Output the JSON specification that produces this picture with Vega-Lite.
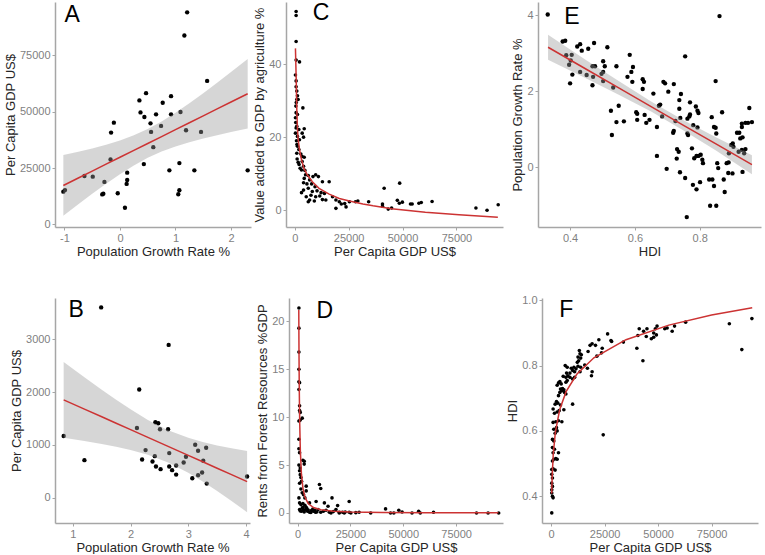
{
"$schema": "https://vega.github.io/schema/vega-lite/v6.json",
"padding": {"left": 4, "top": 2, "right": 2, "bottom": 0},
"spacing": 36,
"config": {
  "view": {"stroke": null},
  "font": "Liberation Sans",
  "axis": {"grid": false, "domainColor": "#a6a6a6", "domainWidth": 1.5, "tickColor": "#a6a6a6", "tickSize": 3, "tickWidth": 1, "labelColor": "#7f7f7f", "labelFont": "Liberation Sans", "labelFontSize": 11, "labelPadding": 2, "labelFlush": false, "labelOverlap": false, "titleFont": "Liberation Sans", "titleFontSize": 13, "titleFontWeight": "normal", "titleColor": "#262626", "titlePadding": 2},
  "text": {"font": "Liberation Sans"}
},
"datasets": {
  "a_pts": [{"x":-1.02,"y":14500},{"x":-0.99,"y":15200},{"x":-0.64,"y":21470},{"x":-0.49,"y":21180},{"x":-0.28,"y":18820},{"x":-0.32,"y":13300},{"x":-0.30,"y":13600},{"x":-0.16,"y":40740},{"x":-0.11,"y":45150},{"x":-0.17,"y":28820},{"x":-0.04,"y":13820},{"x":0.09,"y":7350},{"x":0.13,"y":22940},{"x":0.13,"y":19700},{"x":0.12,"y":17940},{"x":0.35,"y":55000},{"x":0.37,"y":49700},{"x":0.44,"y":47650},{"x":0.47,"y":58240},{"x":0.43,"y":26760},{"x":0.55,"y":44850},{"x":0.56,"y":41030},{"x":0.65,"y":48820},{"x":0.60,"y":34260},{"x":0.74,"y":43680},{"x":0.77,"y":53970},{"x":0.92,"y":56910},{"x":0.92,"y":48820},{"x":0.89,"y":23970},{"x":1.09,"y":49850},{"x":1.07,"y":27200},{"x":1.07,"y":15150},{"x":1.05,"y":13380},{"x":1.19,"y":41760},{"x":1.16,"y":83820},{"x":1.21,"y":94120},{"x":1.34,"y":23970},{"x":1.46,"y":41030},{"x":1.57,"y":63680},{"x":2.30,"y":23970}],
  "a_fit": [{"x":-1.02,"fit":17255,"lo":3770,"hi":30740},{"x":-0.75,"fit":20566,"lo":8896,"hi":32236},{"x":-0.5,"fit":23630,"lo":13540,"hi":33720},{"x":-0.25,"fit":26697,"lo":18033,"hi":35361},{"x":0,"fit":29763,"lo":22280,"hi":37245},{"x":0.25,"fit":32829,"lo":26157,"hi":39501},{"x":0.5,"fit":35895,"lo":29515,"hi":42275},{"x":0.75,"fit":38961,"lo":32289,"hi":45633},{"x":1,"fit":42026,"lo":34544,"hi":49508},{"x":1.25,"fit":45092,"lo":36428,"hi":53756},{"x":1.5,"fit":48158,"lo":38068,"hi":58248},{"x":1.75,"fit":51224,"lo":39554,"hi":62894},{"x":2,"fit":54289,"lo":40940,"hi":67638},{"x":2.3,"fit":57968,"lo":42518,"hi":73418}],
  "b_pts": [{"x":0.84,"y":1167},{"x":1.20,"y":710},{"x":1.49,"y":3602},{"x":2.11,"y":1319},{"x":2.15,"y":2048},{"x":2.20,"y":723},{"x":2.26,"y":900},{"x":2.38,"y":685},{"x":2.42,"y":786},{"x":2.43,"y":1427},{"x":2.44,"y":590},{"x":2.48,"y":1408},{"x":2.51,"y":1294},{"x":2.52,"y":539},{"x":2.65,"y":1294},{"x":2.66,"y":2892},{"x":2.67,"y":843},{"x":2.67,"y":590},{"x":2.72,"y":520},{"x":2.79,"y":609},{"x":2.79,"y":437},{"x":2.92,"y":666},{"x":2.96,"y":774},{"x":3.07,"y":368},{"x":3.12,"y":1002},{"x":3.17,"y":888},{"x":3.17,"y":425},{"x":3.24,"y":476},{"x":3.26,"y":698},{"x":3.31,"y":945},{"x":3.32,"y":266},{"x":4.02,"y":400}],
  "b_fit": [{"x":0.84,"fit":1852,"lo":1134,"hi":2570},{"x":1.2,"fit":1677,"lo":1073,"hi":2281},{"x":1.5,"fit":1531,"lo":1017,"hi":2045},{"x":1.75,"fit":1409,"lo":964,"hi":1854},{"x":2,"fit":1287,"lo":902,"hi":1672},{"x":2.3,"fit":1141,"lo":810,"hi":1472},{"x":2.65,"fit":971,"lo":665,"hi":1277},{"x":3,"fit":801,"lo":470,"hi":1132},{"x":3.25,"fit":679,"lo":305,"hi":1053},{"x":3.5,"fit":557,"lo":125,"hi":989},{"x":3.75,"fit":435,"lo":-65,"hi":935},{"x":4.02,"fit":304,"lo":-275,"hi":883}],
  "c_pts": [{"x":626,"y":54.4},{"x":626,"y":53.3},{"x":626,"y":46.2},{"x":626,"y":41.1},{"x":2191,"y":40.6},{"x":313,"y":37.0},{"x":626,"y":35.4},{"x":626,"y":33.8},{"x":939,"y":32.6},{"x":1252,"y":31.3},{"x":939,"y":30.3},{"x":1565,"y":30.3},{"x":3756,"y":28.0},{"x":626,"y":26.7},{"x":1252,"y":26.2},{"x":313,"y":25.3},{"x":939,"y":23.0},{"x":626,"y":22.5},{"x":1878,"y":22.1},{"x":4382,"y":22.3},{"x":313,"y":21.1},{"x":1252,"y":20.2},{"x":3443,"y":21.1},{"x":4069,"y":20.0},{"x":2191,"y":19.3},{"x":1252,"y":17.5},{"x":1878,"y":16.6},{"x":939,"y":15.6},{"x":2817,"y":15.4},{"x":3443,"y":14.7},{"x":4382,"y":14.5},{"x":1565,"y":13.1},{"x":3443,"y":13.3},{"x":4069,"y":12.0},{"x":3130,"y":11.0},{"x":4695,"y":10.9},{"x":500,"y":28.5},{"x":700,"y":29.5},{"x":450,"y":24.0},{"x":800,"y":19.0},{"x":1000,"y":18.0},{"x":1100,"y":14.0},{"x":2000,"y":12.5},{"x":2500,"y":11.5},{"x":5008,"y":9.7},{"x":6260,"y":9.5},{"x":4382,"y":8.7},{"x":6886,"y":8.3},{"x":8451,"y":9.2},{"x":9703,"y":9.7},{"x":10955,"y":9.2},{"x":4069,"y":7.5},{"x":5634,"y":7.2},{"x":7825,"y":7.2},{"x":9390,"y":6.4},{"x":12833,"y":7.8},{"x":15963,"y":7.8},{"x":4069,"y":5.5},{"x":6260,"y":6.0},{"x":8138,"y":5.1},{"x":10329,"y":5.3},{"x":12207,"y":4.8},{"x":13772,"y":4.6},{"x":3130,"y":4.8},{"x":7512,"y":4.1},{"x":9703,"y":3.7},{"x":11581,"y":3.9},{"x":12833,"y":2.9},{"x":14398,"y":2.8},{"x":5321,"y":3.7},{"x":6886,"y":2.8},{"x":6260,"y":2.3},{"x":9077,"y":2.5},{"x":17528,"y":3.7},{"x":19093,"y":2.8},{"x":20658,"y":2.3},{"x":19093,"y":0.5},{"x":21597,"y":1.7},{"x":23162,"y":1.8},{"x":23788,"y":0.9},{"x":25353,"y":2.3},{"x":28170,"y":2.3},{"x":29270,"y":2.5},{"x":34270,"y":2.3},{"x":41470,"y":6.0},{"x":40690,"y":1.7},{"x":40690,"y":1.1},{"x":43350,"y":0.3},{"x":44920,"y":0.6},{"x":47580,"y":2.7},{"x":48670,"y":7.4},{"x":48510,"y":1.9},{"x":49920,"y":2.2},{"x":53680,"y":1.7},{"x":54460,"y":1.7},{"x":57590,"y":1.9},{"x":58690,"y":2.1},{"x":63700,"y":2.4},{"x":84040,"y":0.6},{"x":89200,"y":0},{"x":94370,"y":1.5}],
  "c_fit": [{"x":313,"fit":44.3},{"x":626,"fit":36.8},{"x":939,"fit":27.6},{"x":1252,"fit":22.1},{"x":1565,"fit":19.3},{"x":2191,"fit":16.6},{"x":3130,"fit":13.8},{"x":4226,"fit":11.5},{"x":5790,"fit":9.7},{"x":8138,"fit":7.8},{"x":11268,"fit":6.0},{"x":15963,"fit":4.4},{"x":20658,"fit":3.2},{"x":25353,"fit":2.5},{"x":31613,"fit":1.7},{"x":36308,"fit":1.2},{"x":44920,"fit":0.4},{"x":60570,"fit":-0.55},{"x":76220,"fit":-1.25},{"x":94210,"fit":-1.9}],
  "d_pts": [{"x":626,"y":21.4},{"x":626,"y":19.3},{"x":626,"y":16.8},{"x":626,"y":15.0},{"x":626,"y":13.7},{"x":939,"y":13.6},{"x":626,"y":12.9},{"x":939,"y":11.2},{"x":939,"y":10.7},{"x":1252,"y":10.5},{"x":626,"y":9.6},{"x":1252,"y":9.7},{"x":2191,"y":9.9},{"x":626,"y":7.7},{"x":626,"y":6.7},{"x":939,"y":6.3},{"x":626,"y":5.0},{"x":1252,"y":4.7},{"x":939,"y":4.4},{"x":1252,"y":4.0},{"x":1565,"y":3.7},{"x":1878,"y":3.3},{"x":939,"y":3.1},{"x":2504,"y":5.5},{"x":3130,"y":5.4},{"x":3130,"y":5.1},{"x":1565,"y":2.5},{"x":4069,"y":2.8},{"x":4069,"y":2.3},{"x":10330,"y":2.97},{"x":10950,"y":2.55},{"x":2191,"y":2.1},{"x":2817,"y":1.9},{"x":626,"y":1.57},{"x":3443,"y":1.57},{"x":939,"y":1.05},{"x":1565,"y":0.87},{"x":2504,"y":0.98},{"x":16280,"y":1.57},{"x":5630,"y":1.05},{"x":8760,"y":1.2},{"x":12680,"y":1.05},{"x":14400,"y":0.7},{"x":18940,"y":0.77},{"x":24410,"y":1.19},{"x":939,"y":0.35},{"x":1878,"y":0.17},{"x":2817,"y":0.28},{"x":3756,"y":0.35},{"x":4695,"y":0.17},{"x":5634,"y":0.07},{"x":6573,"y":0.24},{"x":7512,"y":0.17},{"x":8451,"y":0.07},{"x":9703,"y":0.35},{"x":10955,"y":0.07},{"x":12207,"y":0.17},{"x":13459,"y":0.28},{"x":15024,"y":0.07},{"x":16902,"y":0.14},{"x":18154,"y":0.35},{"x":19719,"y":0.07},{"x":21284,"y":0.07},{"x":22536,"y":0.1},{"x":24414,"y":0.07},{"x":27544,"y":0.03},{"x":29109,"y":0.07},{"x":34587,"y":0},{"x":1252,"y":0.2},{"x":2191,"y":0.5},{"x":3130,"y":0.1},{"x":4382,"y":0.45},{"x":5008,"y":0.3},{"x":6260,"y":0.05},{"x":7200,"y":0.4},{"x":8138,"y":0.25},{"x":9077,"y":0.1},{"x":2500,"y":0.6},{"x":3443,"y":0.8},{"x":4069,"y":0.6},{"x":41630,"y":0.42},{"x":43980,"y":0},{"x":45540,"y":0},{"x":47890,"y":0.28},{"x":49450,"y":0.1},{"x":54150,"y":0},{"x":57280,"y":0.17},{"x":58060,"y":0},{"x":64320,"y":0.07},{"x":84670,"y":0},{"x":90140,"y":0},{"x":95150,"y":0},{"x":15800,"y":0},{"x":19720,"y":0},{"x":22070,"y":0},{"x":25200,"y":0}],
  "d_fit": [{"x":560,"fit":21.2},{"x":626,"fit":18.1},{"x":700,"fit":15.5},{"x":800,"fit":12.8},{"x":1000,"fit":9.4},{"x":1300,"fit":6.5},{"x":1800,"fit":4.13},{"x":2504,"fit":2.6},{"x":3500,"fit":1.63},{"x":5000,"fit":0.99},{"x":7500,"fit":0.56},{"x":11000,"fit":0.33},{"x":17000,"fit":0.18},{"x":25000,"fit":0.10},{"x":40000,"fit":0.054},{"x":60000,"fit":0.03},{"x":95000,"fit":0.016}],
  "e_pts": [{"x":0.331,"y":4.02},{"x":0.377,"y":3.31},{"x":0.385,"y":3.33},{"x":0.422,"y":3.18},{"x":0.431,"y":3.24},{"x":0.436,"y":3.07},{"x":0.456,"y":3.12},{"x":0.474,"y":3.27},{"x":0.515,"y":3.16},{"x":0.388,"y":2.95},{"x":0.405,"y":2.96},{"x":0.402,"y":2.81},{"x":0.397,"y":2.70},{"x":0.407,"y":2.44},{"x":0.400,"y":2.21},{"x":0.431,"y":2.51},{"x":0.451,"y":2.43},{"x":0.469,"y":2.66},{"x":0.477,"y":2.66},{"x":0.471,"y":2.38},{"x":0.469,"y":2.16},{"x":0.497,"y":2.46},{"x":0.502,"y":2.51},{"x":0.502,"y":2.79},{"x":0.507,"y":2.66},{"x":0.502,"y":2.27},{"x":0.543,"y":2.66},{"x":0.533,"y":2.10},{"x":0.526,"y":1.49},{"x":0.55,"y":1.62},{"x":0.543,"y":1.19},{"x":0.566,"y":1.21},{"x":0.529,"y":0.85},{"x":0.584,"y":2.96},{"x":0.594,"y":2.64},{"x":0.589,"y":2.51},{"x":0.577,"y":2.38},{"x":0.592,"y":2.25},{"x":0.624,"y":2.32},{"x":0.628,"y":2.25},{"x":0.624,"y":2.06},{"x":0.604,"y":1.45},{"x":0.607,"y":1.41},{"x":0.607,"y":1.25},{"x":0.635,"y":1.17},{"x":0.63,"y":1.38},{"x":0.645,"y":1.25},{"x":0.657,"y":1.94},{"x":0.668,"y":1.06},{"x":0.668,"y":0.30},{"x":0.674,"y":1.62},{"x":0.678,"y":1.65},{"x":0.684,"y":1.34},{"x":0.688,"y":2.25},{"x":0.693,"y":2.21},{"x":0.698,"y":-0.04},{"x":0.703,"y":1.99},{"x":0.72,"y":2.19},{"x":0.725,"y":1.22},{"x":0.718,"y":0.91},{"x":0.72,"y":0.96},{"x":0.73,"y":0.48},{"x":0.735,"y":0.41},{"x":0.729,"y":0.23},{"x":0.737,"y":1.77},{"x":0.737,"y":1.54},{"x":0.742,"y":1.93},{"x":0.74,"y":1.30},{"x":0.739,"y":-0.13},{"x":0.755,"y":-0.28},{"x":0.755,"y":2.92},{"x":0.762,"y":1.28},{"x":0.768,"y":1.34},{"x":0.77,"y":1.39},{"x":0.762,"y":0.89},{"x":0.764,"y":0.85},{"x":0.77,"y":1.71},{"x":0.78,"y":1.11},{"x":0.776,"y":0.50},{"x":0.779,"y":-0.46},{"x":0.79,"y":-0.58},{"x":0.788,"y":1.60},{"x":0.793,"y":1.49},{"x":0.796,"y":1.43},{"x":0.793,"y":1.05},{"x":0.783,"y":0.24},{"x":0.79,"y":0.30},{"x":0.801,"y":-0.39},{"x":0.796,"y":0.30},{"x":0.803,"y":0.33},{"x":0.808,"y":0.20},{"x":0.81,"y":0.11},{"x":0.829,"y":-0.32},{"x":0.839,"y":-0.32},{"x":0.844,"y":-0.49},{"x":0.832,"y":-1.01},{"x":0.851,"y":-1.01},{"x":0.76,"y":-1.31},{"x":0.837,"y":1.32},{"x":0.844,"y":1.06},{"x":0.849,"y":1.04},{"x":0.849,"y":2.27},{"x":0.851,"y":0.89},{"x":0.854,"y":0.11},{"x":0.857,"y":-0.02},{"x":0.861,"y":3.98},{"x":0.869,"y":1.45},{"x":0.874,"y":-0.32},{"x":0.877,"y":-0.65},{"x":0.883,"y":0.11},{"x":0.889,"y":0.13},{"x":0.89,"y":0.37},{"x":0.897,"y":0.59},{"x":0.902,"y":0.63},{"x":0.904,"y":0.54},{"x":0.888,"y":-0.15},{"x":0.901,"y":-0.16},{"x":0.915,"y":0.91},{"x":0.922,"y":0.91},{"x":0.92,"y":0.41},{"x":0.93,"y":0.46},{"x":0.925,"y":0.76},{"x":0.932,"y":0.79},{"x":0.93,"y":1.15},{"x":0.93,"y":1.06},{"x":0.941,"y":1.17},{"x":0.932,"y":-0.12},{"x":0.941,"y":0.48},{"x":0.937,"y":0.37},{"x":0.953,"y":1.56},{"x":0.949,"y":1.17},{"x":0.961,"y":1.19}],
  "e_fit": [{"x":0.332,"fit":3.16,"lo":2.83,"hi":3.49},{"x":0.45,"fit":2.58,"lo":2.34,"hi":2.82},{"x":0.55,"fit":2.089,"lo":1.91,"hi":2.27},{"x":0.65,"fit":1.598,"lo":1.47,"hi":1.73},{"x":0.75,"fit":1.106,"lo":0.97,"hi":1.24},{"x":0.85,"fit":0.615,"lo":0.44,"hi":0.79},{"x":0.961,"fit":0.07,"lo":-0.18,"hi":0.32}],
  "f_pts": [{"x":314,"y":0.349},{"x":314,"y":0.41},{"x":629,"y":0.40},{"x":943,"y":0.395},{"x":314,"y":0.42},{"x":629,"y":0.43},{"x":314,"y":0.44},{"x":629,"y":0.456},{"x":314,"y":0.467},{"x":314,"y":0.482},{"x":943,"y":0.484},{"x":1886,"y":0.48},{"x":629,"y":0.508},{"x":1258,"y":0.513},{"x":2201,"y":0.515},{"x":2830,"y":0.513},{"x":3458,"y":0.533},{"x":943,"y":0.533},{"x":1572,"y":0.544},{"x":629,"y":0.549},{"x":1258,"y":0.569},{"x":629,"y":0.574},{"x":1886,"y":0.593},{"x":2830,"y":0.60},{"x":1258,"y":0.605},{"x":2515,"y":0.61},{"x":943,"y":0.626},{"x":2201,"y":0.628},{"x":3458,"y":0.631},{"x":5030,"y":0.628},{"x":1572,"y":0.654},{"x":2830,"y":0.658},{"x":3773,"y":0.662},{"x":1886,"y":0.682},{"x":3144,"y":0.685},{"x":4402,"y":0.679},{"x":943,"y":0.667},{"x":2515,"y":0.69},{"x":5974,"y":0.665},{"x":10061,"y":0.682},{"x":3458,"y":0.708},{"x":4087,"y":0.718},{"x":5030,"y":0.723},{"x":6288,"y":0.718},{"x":6917,"y":0.713},{"x":2830,"y":0.74},{"x":3458,"y":0.747},{"x":4087,"y":0.751},{"x":4716,"y":0.744},{"x":4402,"y":0.728},{"x":5345,"y":0.73},{"x":5974,"y":0.726},{"x":6917,"y":0.749},{"x":7546,"y":0.754},{"x":5659,"y":0.767},{"x":6917,"y":0.764},{"x":7860,"y":0.769},{"x":8803,"y":0.764},{"x":7231,"y":0.777},{"x":8803,"y":0.777},{"x":10061,"y":0.785},{"x":11004,"y":0.781},{"x":6602,"y":0.80},{"x":7546,"y":0.795},{"x":9432,"y":0.792},{"x":10690,"y":0.795},{"x":11633,"y":0.79},{"x":12576,"y":0.798},{"x":10061,"y":0.759},{"x":11004,"y":0.764},{"x":13519,"y":0.781},{"x":13834,"y":0.795},{"x":12576,"y":0.826},{"x":13519,"y":0.836},{"x":13205,"y":0.846},{"x":12890,"y":0.815},{"x":14148,"y":0.833},{"x":13834,"y":0.823},{"x":12262,"y":0.81},{"x":15720,"y":0.802},{"x":16978,"y":0.792},{"x":17292,"y":0.843},{"x":18864,"y":0.769},{"x":19178,"y":0.781},{"x":18235,"y":0.862},{"x":19178,"y":0.867},{"x":20750,"y":0.862},{"x":21379,"y":0.829},{"x":23580,"y":0.839},{"x":22322,"y":0.879},{"x":23894,"y":0.853},{"x":24366,"y":0.588},{"x":26410,"y":0.897},{"x":27982,"y":0.877},{"x":28296,"y":0.874},{"x":33798,"y":0.872},{"x":40086,"y":0.853},{"x":40558,"y":0.892},{"x":41187,"y":0.913},{"x":42916,"y":0.815},{"x":43230,"y":0.905},{"x":44488,"y":0.889},{"x":44802,"y":0.913},{"x":46845,"y":0.882},{"x":47946,"y":0.887},{"x":47946,"y":0.9},{"x":48732,"y":0.913},{"x":49518,"y":0.921},{"x":49203,"y":0.894},{"x":53133,"y":0.913},{"x":54234,"y":0.915},{"x":56592,"y":0.905},{"x":57693,"y":0.921},{"x":62880,"y":0.933},{"x":83316,"y":0.928},{"x":89132,"y":0.849},{"x":93848,"y":0.944}],
  "f_fit": [{"x":300,"fit":0.4086},{"x":500,"fit":0.459},{"x":1000,"fit":0.5277},{"x":2000,"fit":0.5962},{"x":4000,"fit":0.6648},{"x":7000,"fit":0.7201},{"x":12000,"fit":0.7734},{"x":20000,"fit":0.824},{"x":35000,"fit":0.8793},{"x":55000,"fit":0.924},{"x":75000,"fit":0.9547},{"x":94000,"fit":0.977}]
},
"vconcat": [
 {"spacing": 35, "bounds": "flush", "hconcat": [
  {"width": 196, "height": 225, "layer": [
    {"data": {"name": "a_pts"}, "mark": {"type": "circle", "size": 19, "color": "#000000", "opacity": 1},
     "encoding": {"x": {"field": "x", "type": "quantitative", "title": "Population Growth Rate %", "scale": {"domain": [-1.17, 2.36], "nice": false, "zero": false}, "axis": {"values": [-1, 0, 1, 2], "format": "d", "labelExpr": "datum.value < 0 ? '-' + abs(datum.value) : datum.label"}},
                  "y": {"field": "y", "type": "quantitative", "title": "Per Capita GDP US$", "scale": {"domain": [-1180, 98700], "nice": false, "zero": false}, "axis": {"values": [0, 25000, 50000, 75000], "format": "d"}}}},
    {"data": {"name": "a_fit"}, "mark": {"type": "area", "color": "#999999", "opacity": 0.4},
     "encoding": {"x": {"field": "x", "type": "quantitative", "title": "Population Growth Rate %"}, "y": {"field": "lo", "type": "quantitative", "title": "Per Capita GDP US$"}, "y2": {"field": "hi"}}},
    {"data": {"name": "a_fit"}, "mark": {"type": "line", "color": "#cc3333", "strokeWidth": 1.5},
     "encoding": {"x": {"field": "x", "type": "quantitative", "title": "Population Growth Rate %"}, "y": {"field": "fit", "type": "quantitative", "title": "Per Capita GDP US$"}}},
    {"data": {"values": [{"label": "A"}]}, "mark": {"type": "text", "fontSize": 23, "align": "left", "baseline": "alphabetic", "color": "#000000"},
     "encoding": {"x": {"datum": -1.0, "type": "quantitative"}, "y": {"datum": 90000, "type": "quantitative"}, "text": {"field": "label"}}}
  ]},
  {"width": 217, "height": 225, "layer": [
    {"data": {"name": "c_pts"}, "mark": {"type": "circle", "size": 13, "color": "#000000", "opacity": 1},
     "encoding": {"x": {"field": "x", "type": "quantitative", "title": "Per Capita GDP US$", "scale": {"domain": [-4070, 96600], "nice": false, "zero": false}, "axis": {"values": [0, 25000, 50000, 75000], "format": "d"}},
                  "y": {"field": "y", "type": "quantitative", "title": "Value added to GDP by agriculture %", "scale": {"domain": [-4.6, 57], "nice": false, "zero": false}, "axis": {"values": [0, 20, 40]}}}},
    {"data": {"name": "c_fit"}, "mark": {"type": "line", "color": "#cc3333", "strokeWidth": 1.5},
     "encoding": {"x": {"field": "x", "type": "quantitative", "title": "Per Capita GDP US$"}, "y": {"field": "fit", "type": "quantitative", "title": "Value added to GDP by agriculture %"}}},
    {"data": {"values": [{"label": "C"}]}, "mark": {"type": "text", "fontSize": 23, "align": "left", "baseline": "alphabetic", "color": "#000000"},
     "encoding": {"x": {"datum": 8360, "type": "quantitative"}, "y": {"datum": 52, "type": "quantitative"}, "text": {"field": "label"}}}
  ]},
  {"width": 223, "height": 225, "layer": [
    {"data": {"name": "e_pts"}, "mark": {"type": "circle", "size": 19, "color": "#000000", "opacity": 1},
     "encoding": {"x": {"field": "x", "type": "quantitative", "title": "HDI", "scale": {"domain": [0.301, 0.989], "nice": false, "zero": false}, "axis": {"values": [0.4, 0.6, 0.8], "format": ".1f"}},
                  "y": {"field": "y", "type": "quantitative", "title": "Population Growth Rate %", "scale": {"domain": [-1.57, 4.35], "nice": false, "zero": false}, "axis": {"values": [0, 2, 4]}}}},
    {"data": {"name": "e_fit"}, "mark": {"type": "area", "color": "#999999", "opacity": 0.4},
     "encoding": {"x": {"field": "x", "type": "quantitative", "title": "HDI"}, "y": {"field": "lo", "type": "quantitative", "title": "Population Growth Rate %"}, "y2": {"field": "hi"}}},
    {"data": {"name": "e_fit"}, "mark": {"type": "line", "color": "#cc3333", "strokeWidth": 1.5},
     "encoding": {"x": {"field": "x", "type": "quantitative", "title": "HDI"}, "y": {"field": "fit", "type": "quantitative", "title": "Population Growth Rate %"}}},
    {"data": {"values": [{"label": "E"}]}, "mark": {"type": "text", "fontSize": 23, "align": "left", "baseline": "alphabetic", "color": "#000000"},
     "encoding": {"x": {"datum": 0.382, "type": "quantitative"}, "y": {"datum": 3.76, "type": "quantitative"}, "text": {"field": "label"}}}
  ]}
 ]},
 {"spacing": 39, "bounds": "flush", "hconcat": [
  {"width": 195, "height": 225, "layer": [
    {"data": {"name": "b_pts"}, "mark": {"type": "circle", "size": 19, "color": "#000000", "opacity": 1},
     "encoding": {"x": {"field": "x", "type": "quantitative", "title": "Population Growth Rate %", "scale": {"domain": [0.69, 4.07], "nice": false, "zero": false}, "axis": {"values": [1, 2, 3, 4], "format": "d"}},
                  "y": {"field": "y", "type": "quantitative", "title": "Per Capita GDP US$", "scale": {"domain": [-480, 3780], "nice": false, "zero": false}, "axis": {"values": [0, 1000, 2000, 3000], "format": "d"}}}},
    {"data": {"name": "b_fit"}, "mark": {"type": "area", "color": "#999999", "opacity": 0.4},
     "encoding": {"x": {"field": "x", "type": "quantitative", "title": "Population Growth Rate %"}, "y": {"field": "lo", "type": "quantitative", "title": "Per Capita GDP US$"}, "y2": {"field": "hi"}}},
    {"data": {"name": "b_fit"}, "mark": {"type": "line", "color": "#cc3333", "strokeWidth": 1.5},
     "encoding": {"x": {"field": "x", "type": "quantitative", "title": "Population Growth Rate %"}, "y": {"field": "fit", "type": "quantitative", "title": "Per Capita GDP US$"}}},
    {"data": {"values": [{"label": "B"}]}, "mark": {"type": "text", "fontSize": 23, "align": "left", "baseline": "alphabetic", "color": "#000000"},
     "encoding": {"x": {"datum": 0.923, "type": "quantitative"}, "y": {"datum": 3424, "type": "quantitative"}, "text": {"field": "label"}}}
  ]},
  {"width": 214, "height": 225, "layer": [
    {"data": {"name": "d_pts"}, "mark": {"type": "circle", "size": 13, "color": "#000000", "opacity": 1},
     "encoding": {"x": {"field": "x", "type": "quantitative", "title": "Per Capita GDP US$", "scale": {"domain": [-4070, 97200], "nice": false, "zero": false}, "axis": {"values": [0, 25000, 50000, 75000], "format": "d"}},
                  "y": {"field": "y", "type": "quantitative", "title": "Rents from Forest Resources %GDP", "scale": {"domain": [-1.05, 22.45], "nice": false, "zero": false}, "axis": {"values": [0, 5, 10, 15, 20]}}}},
    {"data": {"name": "d_fit"}, "mark": {"type": "line", "color": "#cc3333", "strokeWidth": 1.5},
     "encoding": {"x": {"field": "x", "type": "quantitative", "title": "Per Capita GDP US$"}, "y": {"field": "fit", "type": "quantitative", "title": "Rents from Forest Resources %GDP"}}},
    {"data": {"values": [{"label": "D"}]}, "mark": {"type": "text", "fontSize": 23, "align": "left", "baseline": "alphabetic", "color": "#000000"},
     "encoding": {"x": {"datum": 8970, "type": "quantitative"}, "y": {"datum": 20.35, "type": "quantitative"}, "text": {"field": "label"}}}
  ]},
  {"width": 216, "height": 225, "layer": [
    {"data": {"name": "f_pts"}, "mark": {"type": "circle", "size": 13, "color": "#000000", "opacity": 1},
     "encoding": {"x": {"field": "x", "type": "quantitative", "title": "Per Capita GDP US$", "scale": {"domain": [-4250, 96700], "nice": false, "zero": false}, "axis": {"values": [0, 25000, 50000, 75000], "format": "d"}},
                  "y": {"field": "y", "type": "quantitative", "title": "HDI", "scale": {"domain": [0.318, 1.007], "nice": false, "zero": false}, "axis": {"values": [0.4, 0.6, 0.8, 1.0], "format": ".1f"}}}},
    {"data": {"name": "f_fit"}, "mark": {"type": "line", "color": "#cc3333", "strokeWidth": 1.5},
     "encoding": {"x": {"field": "x", "type": "quantitative", "title": "Per Capita GDP US$"}, "y": {"field": "fit", "type": "quantitative", "title": "HDI"}}},
    {"data": {"values": [{"label": "F"}]}, "mark": {"type": "text", "fontSize": 23, "align": "left", "baseline": "alphabetic", "color": "#000000"},
     "encoding": {"x": {"datum": 3770, "type": "quantitative"}, "y": {"datum": 0.949, "type": "quantitative"}, "text": {"field": "label"}}}
  ]}
 ]}
]
}
